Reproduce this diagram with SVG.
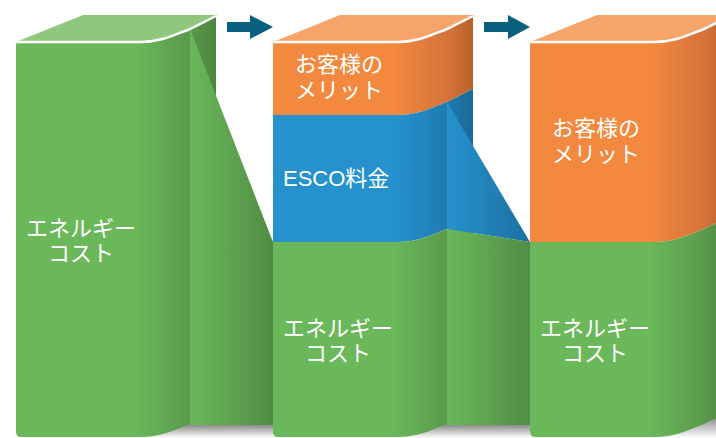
<svg xmlns="http://www.w3.org/2000/svg" width="716" height="438" viewBox="0 0 716 438">
<defs>
<linearGradient id="gG" x1="0" y1="0" x2="1" y2="0"><stop offset="0" stop-color="#6ab85a"/><stop offset="0.6" stop-color="#6ab85a"/><stop offset="0.87" stop-color="#5a9a4c"/><stop offset="1" stop-color="#4d853f"/></linearGradient>
<linearGradient id="gO" x1="0" y1="0" x2="1" y2="0"><stop offset="0" stop-color="#f2893e"/><stop offset="0.6" stop-color="#f2893e"/><stop offset="0.87" stop-color="#d5733a"/><stop offset="1" stop-color="#b8622b"/></linearGradient>
<linearGradient id="gB" x1="0" y1="0" x2="1" y2="0"><stop offset="0" stop-color="#2592ce"/><stop offset="0.6" stop-color="#2592ce"/><stop offset="0.87" stop-color="#1f7bb0"/><stop offset="1" stop-color="#1b6a98"/></linearGradient>
<linearGradient id="fG" x1="0" y1="0" x2="1" y2="0"><stop offset="0" stop-color="#6ab85a"/><stop offset="1" stop-color="#528d45"/></linearGradient>
<linearGradient id="fB" x1="0" y1="0" x2="1" y2="0"><stop offset="0" stop-color="#2592ce"/><stop offset="1" stop-color="#1d70a0"/></linearGradient>
<linearGradient id="sh" x1="0" y1="0" x2="0" y2="1"><stop offset="0" stop-color="#7a7a7a"/><stop offset="1" stop-color="#ffffff"/></linearGradient>
</defs>
<style>
.tg{fill:#8fc87d}
.to{fill:#f7a46b}
.edge{fill:none;stroke:#ffffff;stroke-width:2.5}
.lbl{font-family:"Noto Sans CJK JP",sans-serif;font-size:22px;fill:#ffffff}
.lat{font-family:"Liberation Sans","Noto Sans CJK JP",sans-serif}
.mid{text-anchor:middle}
.arrow{fill:#0a5f7f}
.shadow{fill:url(#sh)}
</style>
<rect width="716" height="438" fill="#ffffff"/>
<g id="shadows">
<rect class="shadow" x="150" y="423" width="123" height="15"/>
<rect class="shadow" x="407" y="423" width="123" height="15"/>
<rect class="shadow" x="650" y="414" width="66" height="24"/>
</g>
<g id="block1">
<path class="tg" d="M16,42 L83,15 H217 L216,16 L190,29 C172,36 160,42 140,42 Z"/>
<path fill="url(#gG)" d="M16,42 H140 C160,42 172,36 190,29 L216,16 V411 L190,424 C172,431 160,437 140,437 H21 Q16,437 16,432 Z"/>
<path class="edge" d="M16,42 H140 C160,42 172,36 190,29 L216,16"/>
<text class="lbl mid"><tspan x="81" y="236">エネルギー</tspan><tspan x="81" y="261">コスト</tspan></text>
</g>
<g id="block2">
<path class="to" d="M273,42 L340,15 H474 L473,16 L447,29 C429,36 417,42 397,42 Z"/>
<path fill="url(#gO)" d="M273,42 H397 C417,42 429,36 447,29 L473,16 V89 L447,102 C429,109 417,115 397,115 H273 Z"/>
<path fill="url(#gB)" d="M273,115 H397 C417,115 429,109 447,102 L473,89 V216 L447,229 C429,236 417,242 397,242 H273 Z"/>
<path fill="url(#gG)" d="M273,242 H397 C417,242 429,236 447,229 L473,216 V411 L447,424 C429,431 417,437 397,437 H278 Q273,437 273,432 Z"/>
<path class="edge" d="M273,42 H397 C417,42 429,36 447,29 L473,16"/>
<text class="lbl"><tspan x="295" y="72">お客様の</tspan><tspan x="295" y="98">メリット</tspan></text>
<text class="lbl lat" x="283" y="186">ESCO料金</text>
<text class="lbl mid"><tspan x="338" y="336">エネルギー</tspan><tspan x="338" y="361">コスト</tspan></text>
</g>
<g id="block3">
<path class="to" d="M530,42 L597,15 H731 L730,16 L704,29 C686,36 674,42 654,42 Z"/>
<path fill="url(#gO)" d="M530,42 H654 C674,42 686,36 704,29 L730,16 V216 L704,229 C686,236 674,242 654,242 H530 Z"/>
<path fill="url(#gG)" d="M530,242 H654 C674,242 686,236 704,229 L730,216 V411 L704,424 C686,431 674,437 654,437 H535 Q530,437 530,432 Z"/>
<path class="edge" d="M530,42 H654 C674,42 686,36 704,29 L730,16"/>
<text class="lbl"><tspan x="552" y="136">お客様の</tspan><tspan x="552" y="162">メリット</tspan></text>
<text class="lbl mid"><tspan x="595" y="336">エネルギー</tspan><tspan x="595" y="361">コスト</tspan></text>
</g>
<g id="connectors">
<path fill="url(#fG)" d="M190,29 L273,242 V425 H190 Z"/>
<path fill="url(#fB)" d="M447,102 L530,242 L447,229 Z"/>
<path fill="url(#fG)" d="M447,229 L530,242 V425 H447 Z"/>
<path class="arrow" d="M227,22 H250 V15 L273,27 L250,39 V32 H227 Z"/>
<path class="arrow" d="M484,22 H508 V15 L530,27 L508,39 V32 H484 Z"/>
</g>
</svg>
